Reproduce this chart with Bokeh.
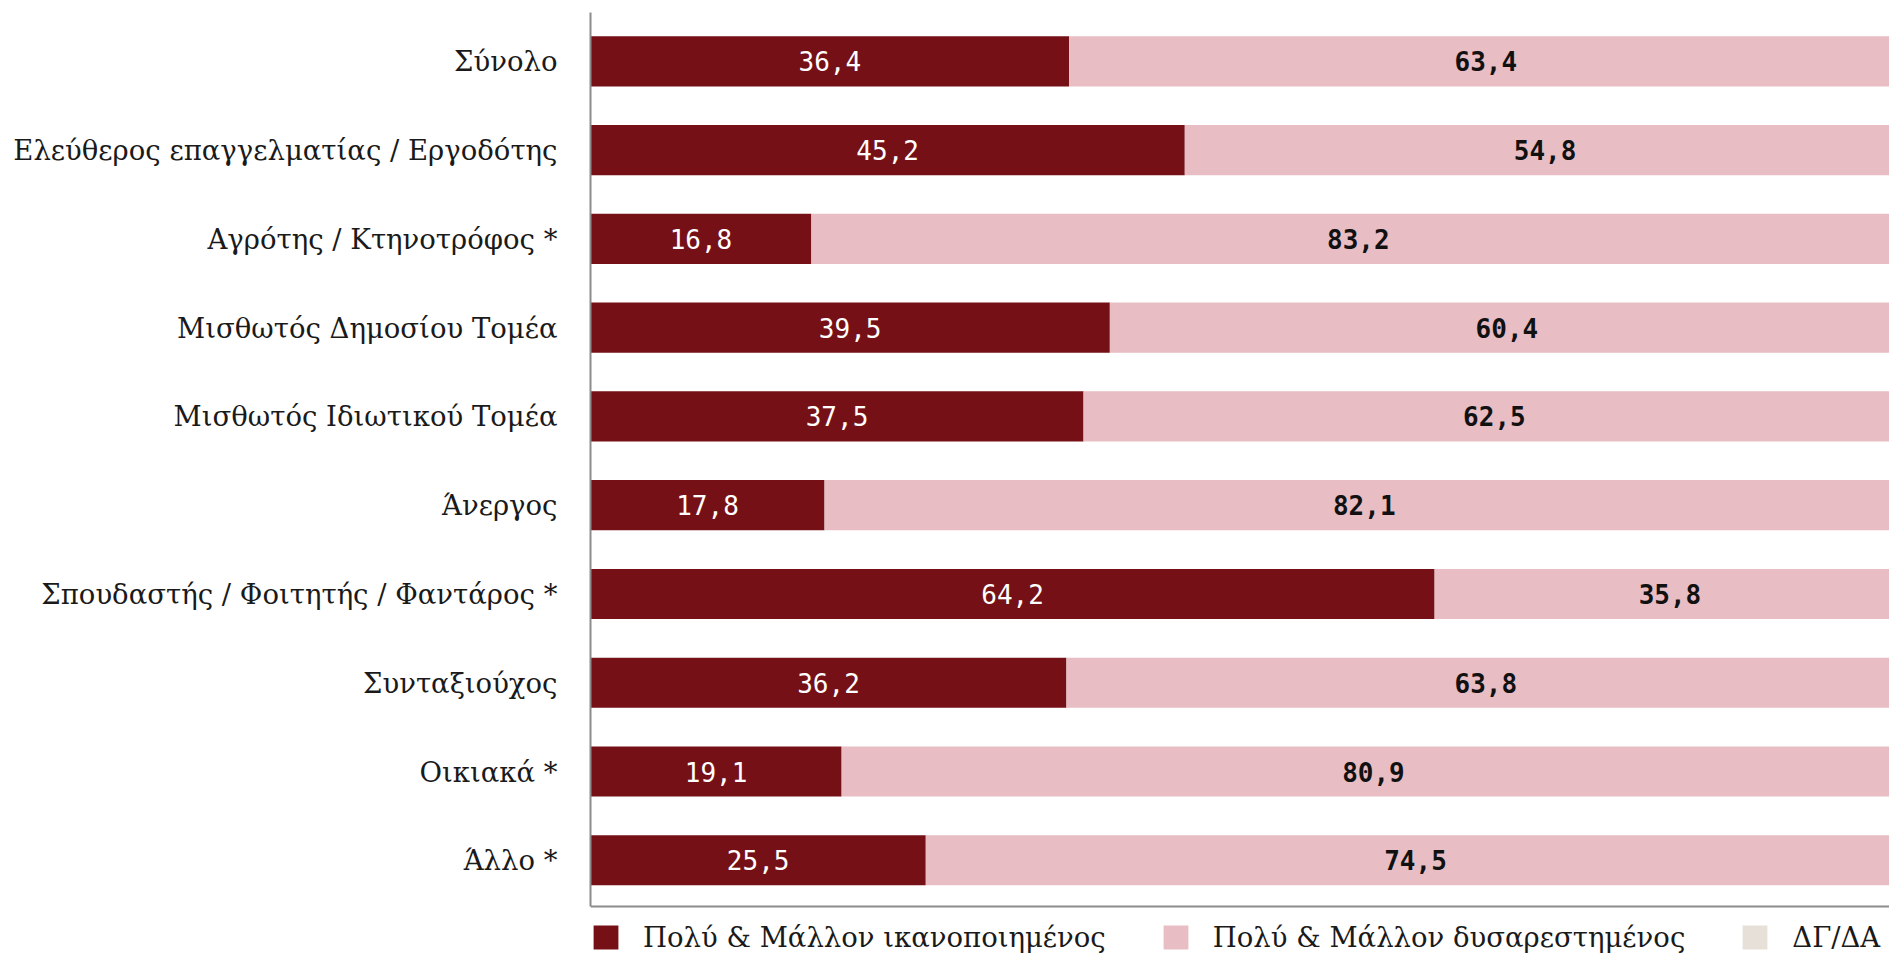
from bokeh.plotting import figure
from bokeh.models import (ColumnDataSource, Range1d, Legend, LegendItem, FixedTicker, Span)
from bokeh.core.properties import value
from bokeh.embed import file_html
from bokeh.resources import INLINE

categories = [
    "Σύνολο",
    "Ελεύθερος επαγγελματίας / Εργοδότης",
    "Αγρότης / Κτηνοτρόφος *",
    "Μισθωτός Δημοσίου Τομέα",
    "Μισθωτός Ιδιωτικού Τομέα",
    "Άνεργος",
    "Σπουδαστής / Φοιτητής / Φαντάρος *",
    "Συνταξιούχος",
    "Οικιακά *",
    "Άλλο *",
]
satisfied = [36.4, 45.2, 16.8, 39.5, 37.5, 17.8, 64.2, 36.2, 19.1, 25.5]
dissatisfied = [63.4, 54.8, 83.2, 60.4, 62.5, 82.1, 35.8, 63.8, 80.9, 74.5]
dk_na = [0.2, 0.0, 0.0, 0.1, 0.0, 0.1, 0.0, 0.0, 0.0, 0.0]

series_names = ["Πολύ & Μάλλον ικανοποιημένος", "Πολύ & Μάλλον δυσαρεστημένος", "ΔΓ/ΔΑ"]
colors = ["#751116", "#e8bdc3", "#e6e0d8"]

def fmt(v):
    return f"{v:.1f}".replace(".", ",")

n = len(categories)
ypos = [n - 1 - i for i in range(n)]  # first category at the top

source = ColumnDataSource(dict(
    y=ypos,
    sat=satisfied,
    dis=dissatisfied,
    dk=dk_na,
    sat_x=[s / 2 for s in satisfied],
    dis_x=[s + d / 2 for s, d in zip(satisfied, dissatisfied)],
    sat_lbl=[fmt(v) for v in satisfied],
    dis_lbl=[fmt(v) for v in dissatisfied],
))

p = figure(
    width=1889, height=953,
    y_range=Range1d(-1.05, n - 1 + 0.55),
    x_range=Range1d(0, 98.8),
    x_axis_location=None,
    output_backend="svg", toolbar_location=None,
    min_border_left=590, min_border_right=0, min_border_top=12, min_border_bottom=0,
)
p.outline_line_color = None
p.grid.visible = False

renderers = p.hbar_stack(["sat", "dis", "dk"], y="y", height=0.565, source=source,
                         color=colors, line_color=None)

label_font = value("DejaVu Sans Mono")
p.text(x="sat_x", y="y", text="sat_lbl", source=source, text_align="center",
       text_baseline="middle", text_color="#ffffff", text_font=label_font,
       text_font_size="26px")
p.text(x="dis_x", y="y", text="dis_lbl", source=source, text_align="center",
       text_baseline="middle", text_color="#111111", text_font=label_font,
       text_font_size="26px", text_font_style="bold")

ya = p.yaxis[0]
ya.ticker = FixedTicker(ticks=ypos)
ya.major_label_overrides = {y: c for y, c in zip(ypos, categories)}
ya.bounds = (-0.52, n - 1 + 0.55)
ya.major_tick_line_color = None
ya.minor_tick_line_color = None
ya.major_tick_out = 0
ya.major_tick_in = 0
ya.major_label_standoff = 33
ya.major_label_text_font = "DejaVu Serif"
ya.major_label_text_font_size = "27.5px"
ya.major_label_text_color = "#1a1a1a"
ya.axis_line_color = "#8c8c8c"
ya.axis_line_width = 2

# baseline (x axis line) under the last bar
p.add_layout(Span(location=-0.52, dimension="width", line_color="#8c8c8c", line_width=2))

legend = Legend(
    items=[LegendItem(label=nm, renderers=[r]) for nm, r in zip(series_names, renderers)],
    orientation="horizontal",
    location=(0, 0),
    glyph_width=31, glyph_height=30,
    label_standoff=22, spacing=54,
    label_text_font="DejaVu Serif", label_text_font_size="27.5px",
    label_text_color="#1a1a1a",
    border_line_color=None, background_fill_alpha=0,
    padding=0, margin=0,
)
p.add_layout(legend, "center")

open("out.html", "w").write(file_html(p, INLINE))
